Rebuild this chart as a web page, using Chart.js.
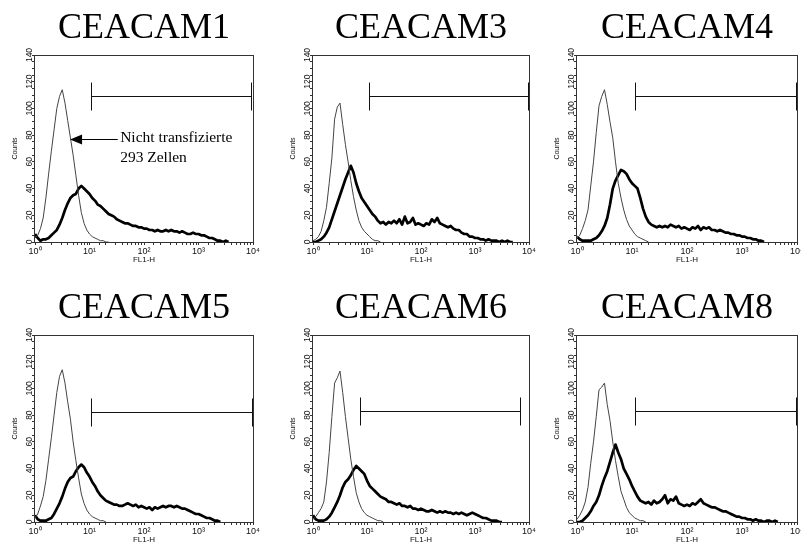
<!DOCTYPE html>
<html>
<head>
<meta charset="utf-8">
<script src="https://cdn.jsdelivr.net/npm/chart.js@4.4.1/dist/chart.umd.min.js"></script>
<style>
  html, body { margin: 0; padding: 0; background: #fff; }
  body { width: 801px; height: 552px; position: relative; overflow: hidden; }
  canvas { position: absolute; }
</style>
</head>
<body>
<canvas id="panel0"></canvas>
<canvas id="panel1"></canvas>
<canvas id="panel2"></canvas>
<canvas id="panel3"></canvas>
<canvas id="panel4"></canvas>
<canvas id="panel5"></canvas>
<script>
// FL1-H Kanalmitten, 0.05 Dekaden Abstand
const fl1Bins = [
  1, 1.122, 1.259, 1.413, 1.585, 1.778, 1.995, 2.239, 2.512, 2.818,
  3.162, 3.548, 3.981, 4.467, 5.012, 5.623, 6.310, 7.079, 7.943, 8.913,
  10, 11.22, 12.59, 14.13, 15.85, 17.78, 19.95, 22.39, 25.12, 28.18,
  31.62, 35.48, 39.81, 44.67, 50.12, 56.23, 63.10, 70.79, 79.43, 89.13,
  100, 112.2, 125.9, 141.3, 158.5, 177.8, 199.5, 223.9, 251.2, 281.8,
  316.2, 354.8, 398.1, 446.7, 501.2, 562.3, 631.0, 707.9, 794.3, 891.3,
  1000, 1122, 1259, 1413, 1585, 1778, 1995, 2239, 2512, 2818,
  3162, 3548, 3981, 4467, 5012
];

const panelTitles = ['CEACAM1', 'CEACAM3', 'CEACAM4', 'CEACAM5', 'CEACAM6', 'CEACAM8'];
const decadeLabels = ['10\u2070', '10\u00b9', '10\u00b2', '10\u00b3', '10\u2074'];
const countLabels = [0, 20, 40, 60, 80, 100, 120, 140];

// nicht transfizierte 293 Zellen (dünne Linie)
const control1 = [3, 5, 10, 18, 33, 51, 68, 84, 100, 109,
  114, 104, 91, 78, 65, 50, 35, 22, 14, 9,
  6, 4, 3, 2, 1, 1, 0, 0];
const control2 = [1, 2, 4, 8, 16, 26, 44, 63, 92, 101,
  104, 88, 73, 60, 46, 34, 24, 16, 11, 8,
  6, 4, 2, 1, 1, 0];
const control3 = [3, 5, 10, 16, 24, 42, 60, 82, 102, 109,
  114, 103, 90, 78, 60, 44, 33, 24, 17, 12,
  9, 6, 4, 3, 2, 1, 0];
const control4 = [3, 6, 12, 19, 31, 47, 63, 80, 97, 109,
  114, 104, 90, 77, 60, 46, 33, 21, 14, 9,
  6, 4, 3, 2, 1, 1, 0];
const control5 = [2, 4, 7, 10, 15, 30, 52, 79, 104, 108,
  113, 97, 79, 63, 47, 34, 22, 15, 10, 7,
  5, 4, 3, 2, 1, 1, 0];
const control6 = [2, 5, 9, 15, 26, 44, 60, 79, 99, 101,
  104, 88, 76, 60, 46, 34, 23, 17, 11, 7,
  5, 3, 2, 1, 1, 0];

// transfizierte Zellen (dicke Linie)
const stained1 = [6, 3, 1, 2, 2, 3, 5, 7, 9, 13,
  18, 24, 29, 33, 35, 36, 40, 42, 40, 38,
  36, 33, 31, 28, 27, 25, 23, 21, 20, 19,
  17, 16, 15, 14, 14, 13, 12, 12, 11, 11,
  10, 10, 9, 9, 8, 9, 8, 8, 9, 8,
  9, 8, 8, 7, 8, 7, 6, 6, 7, 6,
  6, 5, 5, 4, 3, 3, 2, 1, 1, 0,
  1, 0];
const stained2 = [0, 0, 1, 2, 4, 7, 11, 17, 23, 29,
  35, 41, 47, 52, 57, 52, 44, 38, 33, 30,
  27, 24, 21, 19, 16, 14, 15, 13, 15, 14,
  16, 14, 17, 13, 19, 14, 15, 18, 13, 14,
  13, 12, 14, 13, 17, 15, 18, 14, 13, 12,
  11, 12, 10, 9, 9, 7, 6, 6, 4, 4,
  3, 3, 2, 2, 1, 2, 1, 1, 1, 0,
  1, 0, 1, 0, 0];
const stained3 = [4, 2, 1, 1, 1, 1, 2, 3, 5, 8,
  12, 18, 28, 40, 46, 50, 54, 53, 51, 47,
  44, 42, 40, 33, 25, 19, 15, 13, 12, 11,
  12, 11, 12, 11, 13, 12, 11, 12, 10, 11,
  10, 9, 11, 10, 12, 9, 11, 10, 11, 9,
  9, 8, 9, 8, 7, 7, 6, 6, 5, 5,
  4, 4, 3, 3, 2, 2, 1, 1, 0];
const stained4 = [5, 2, 1, 1, 1, 2, 3, 6, 10, 14,
  19, 25, 30, 33, 34, 38, 41, 43, 41, 37,
  34, 30, 27, 23, 20, 18, 16, 15, 14, 13,
  13, 12, 12, 13, 14, 13, 12, 13, 11, 12,
  11, 10, 11, 9, 11, 10, 11, 12, 11, 12,
  12, 11, 12, 11, 10, 10, 9, 8, 7, 6,
  6, 5, 4, 3, 3, 2, 1, 1, 0];
const stained5 = [5, 2, 1, 1, 1, 2, 4, 7, 11, 15,
  20, 26, 30, 32, 35, 39, 42, 40, 38, 36,
  31, 27, 25, 23, 21, 19, 18, 17, 15, 15,
  14, 13, 14, 12, 12, 11, 12, 10, 10, 9,
  10, 9, 8, 8, 9, 8, 7, 8, 7, 8,
  7, 7, 6, 7, 6, 7, 6, 5, 6, 7,
  6, 5, 4, 3, 3, 2, 1, 1, 1, 0,
  0];
const stained6 = [0, 0, 1, 3, 5, 8, 12, 15, 20, 27,
  33, 38, 45, 52, 58, 52, 47, 40, 36, 32,
  27, 23, 19, 16, 15, 14, 15, 13, 16, 14,
  15, 17, 20, 14, 17, 16, 19, 14, 13, 12,
  13, 12, 14, 13, 15, 17, 14, 13, 12, 11,
  11, 10, 9, 8, 8, 7, 6, 5, 4, 4,
  3, 3, 2, 2, 1, 2, 1, 1, 0, 1,
  1, 0, 1, 0];

// Marker (Gate) je Panel
const gateLow = [10.7, 10.8, 11.5, 10.7, 7.3, 11.5];
const gateHigh = [9300, 9500, 9700, 9400, 6700, 9600];
const gateLevel = [109, 109, 109, 82, 83, 83];

// Beschriftung im ersten Panel
const noteLines = ['Nicht transfizierte', '293 Zellen'];
const noteTip = [4.4, 77];
const noteTail = [33, 77];
const noteTextAt = [36.5, 74.5];

const controls = [control1, control2, control3, control4, control5, control6];
const stained = [stained1, stained2, stained3, stained4, stained5, stained6];

// Layout
const plotLeft = [35, 313, 577];
const plotRight = [253, 529, 797];
const rowTop = [0, 280];
const panelHeight = 272;
const yAxisWidth = 35;
const xAxisHeight = 28;
const plotTop = 55;

function toPoints(values) {
  return values.map((v, i) => ({ x: fl1Bins[i], y: v }));
}

const panelDecor = {
  id: 'panelDecor',
  afterDatasetsDraw(chart, args, opts) {
    const { ctx, chartArea: a, scales: { x, y } } = chart;
    const i = opts.index;
    ctx.save();
    // Rahmen
    ctx.strokeStyle = '#333';
    ctx.lineWidth = 1;
    ctx.strokeRect(Math.round(a.left) - 0.5, Math.round(a.top) + 0.5,
      Math.round(a.right - a.left) + 1, Math.round(a.bottom - a.top));
    // Gate
    const gy = Math.round(y.getPixelForValue(gateLevel[i])) + 0.5;
    const gx0 = Math.round(x.getPixelForValue(gateLow[i])) + 0.5;
    const gx1 = Math.round(x.getPixelForValue(gateHigh[i])) + 0.5;
    ctx.strokeStyle = '#111';
    ctx.beginPath();
    ctx.moveTo(gx0, gy); ctx.lineTo(gx1, gy);
    ctx.moveTo(gx0, gy - 14); ctx.lineTo(gx0, gy + 14);
    ctx.moveTo(gx1, gy - 14); ctx.lineTo(gx1, gy + 14);
    ctx.stroke();
    // Titel
    ctx.fillStyle = '#000';
    ctx.font = '36px "Liberation Serif"';
    ctx.textAlign = 'center';
    ctx.textBaseline = 'alphabetic';
    ctx.fillText(panelTitles[i], (a.left + a.right) / 2, a.top - 17);
    ctx.restore();
  }
};

const noteDecor = {
  id: 'noteDecor',
  afterDatasetsDraw(chart) {
    const { ctx, scales: { x, y } } = chart;
    const tx = x.getPixelForValue(noteTip[0]);
    const ty = Math.round(y.getPixelForValue(noteTip[1])) + 0.5;
    const ex = x.getPixelForValue(noteTail[0]);
    ctx.save();
    ctx.strokeStyle = '#000';
    ctx.fillStyle = '#000';
    ctx.lineWidth = 1;
    ctx.beginPath();
    ctx.moveTo(tx + 10, ty); ctx.lineTo(ex, ty);
    ctx.stroke();
    ctx.beginPath();
    ctx.moveTo(tx, ty);
    ctx.lineTo(tx + 12, ty - 5);
    ctx.lineTo(tx + 12, ty + 5);
    ctx.closePath();
    ctx.fill();
    ctx.font = '15.5px "Liberation Serif"';
    ctx.textAlign = 'left';
    ctx.textBaseline = 'alphabetic';
    const lx = x.getPixelForValue(noteTextAt[0]);
    const ly = y.getPixelForValue(noteTextAt[1]);
    noteLines.forEach((t, k) => ctx.fillText(t, lx, ly + k * 19.5));
    ctx.restore();
  }
};

function buildPanel(i) {
  const canvas = document.getElementById('panel' + i);
  const col = i % 3, row = Math.floor(i / 3);
  const left = plotLeft[col] - yAxisWidth;
  const padRight = col === 2 ? 801 - plotRight[col] : 10;
  const width = plotRight[col] + padRight - left;
  canvas.width = width;
  canvas.height = panelHeight;
  canvas.style.left = left + 'px';
  canvas.style.top = rowTop[row] + 'px';
  canvas.style.width = width + 'px';
  canvas.style.height = panelHeight + 'px';

  const tickFont = { family: 'Liberation Sans', size: 9 };
  return new Chart(canvas, {
    type: 'line',
    data: {
      datasets: [
        { data: toPoints(controls[i]), borderColor: '#444', borderWidth: 1, pointRadius: 0 },
        { data: toPoints(stained[i]), borderColor: '#000', borderWidth: 2.7, pointRadius: 0 }
      ]
    },
    options: {
      responsive: false,
      animation: false,
      events: [],
      elements: { line: { tension: 0, borderJoinStyle: 'round' } },
      layout: { padding: { top: plotTop, right: padRight, bottom: panelHeight - plotTop - 187 - xAxisHeight, left: 0 } },
      plugins: {
        legend: { display: false },
        tooltip: { enabled: false },
        panelDecor: { index: i }
      },
      scales: {
        x: {
          type: 'logarithmic',
          min: 1,
          max: 10000,
          border: { display: false },
          grid: { drawOnChartArea: false, tickLength: 3, color: '#333' },
          ticks: {
            autoSkip: false, minRotation: 0, maxRotation: 0, padding: 1,
            color: '#111', font: tickFont,
            callback: v => {
              const l = Math.log10(v);
              return Math.abs(l - Math.round(l)) < 1e-6 ? decadeLabels[Math.round(l)] : '';
            }
          },
          title: {
            display: true, text: 'FL1-H', color: '#111',
            font: { family: 'Liberation Sans', size: 8 },
            padding: { top: 0, bottom: 5 }
          },
          afterFit: s => { s.height = xAxisHeight; s.paddingLeft = 0; s.paddingRight = 0; }
        },
        y: {
          min: 0,
          max: 140,
          border: { display: false },
          grid: { drawOnChartArea: false, tickLength: 3, color: '#333' },
          ticks: {
            stepSize: 5, autoSkip: false, minRotation: 90, maxRotation: 90,
            crossAlign: 'center', padding: -5, color: '#111',
            font: { family: 'Liberation Sans', size: 8.5 },
            callback: v => countLabels.includes(v) ? String(v) : ''
          },
          title: {
            display: true, text: 'Counts', color: '#111',
            font: { family: 'Liberation Sans', size: 7 },
            padding: { top: 11, bottom: 0 }
          },
          afterFit: s => { s.width = yAxisWidth; s.paddingTop = 0; s.paddingBottom = 0; }
        }
      }
    },
    plugins: i === 0 ? [panelDecor, noteDecor] : [panelDecor]
  });
}

for (let i = 0; i < 6; i++) buildPanel(i);
</script>
</body>
</html>
